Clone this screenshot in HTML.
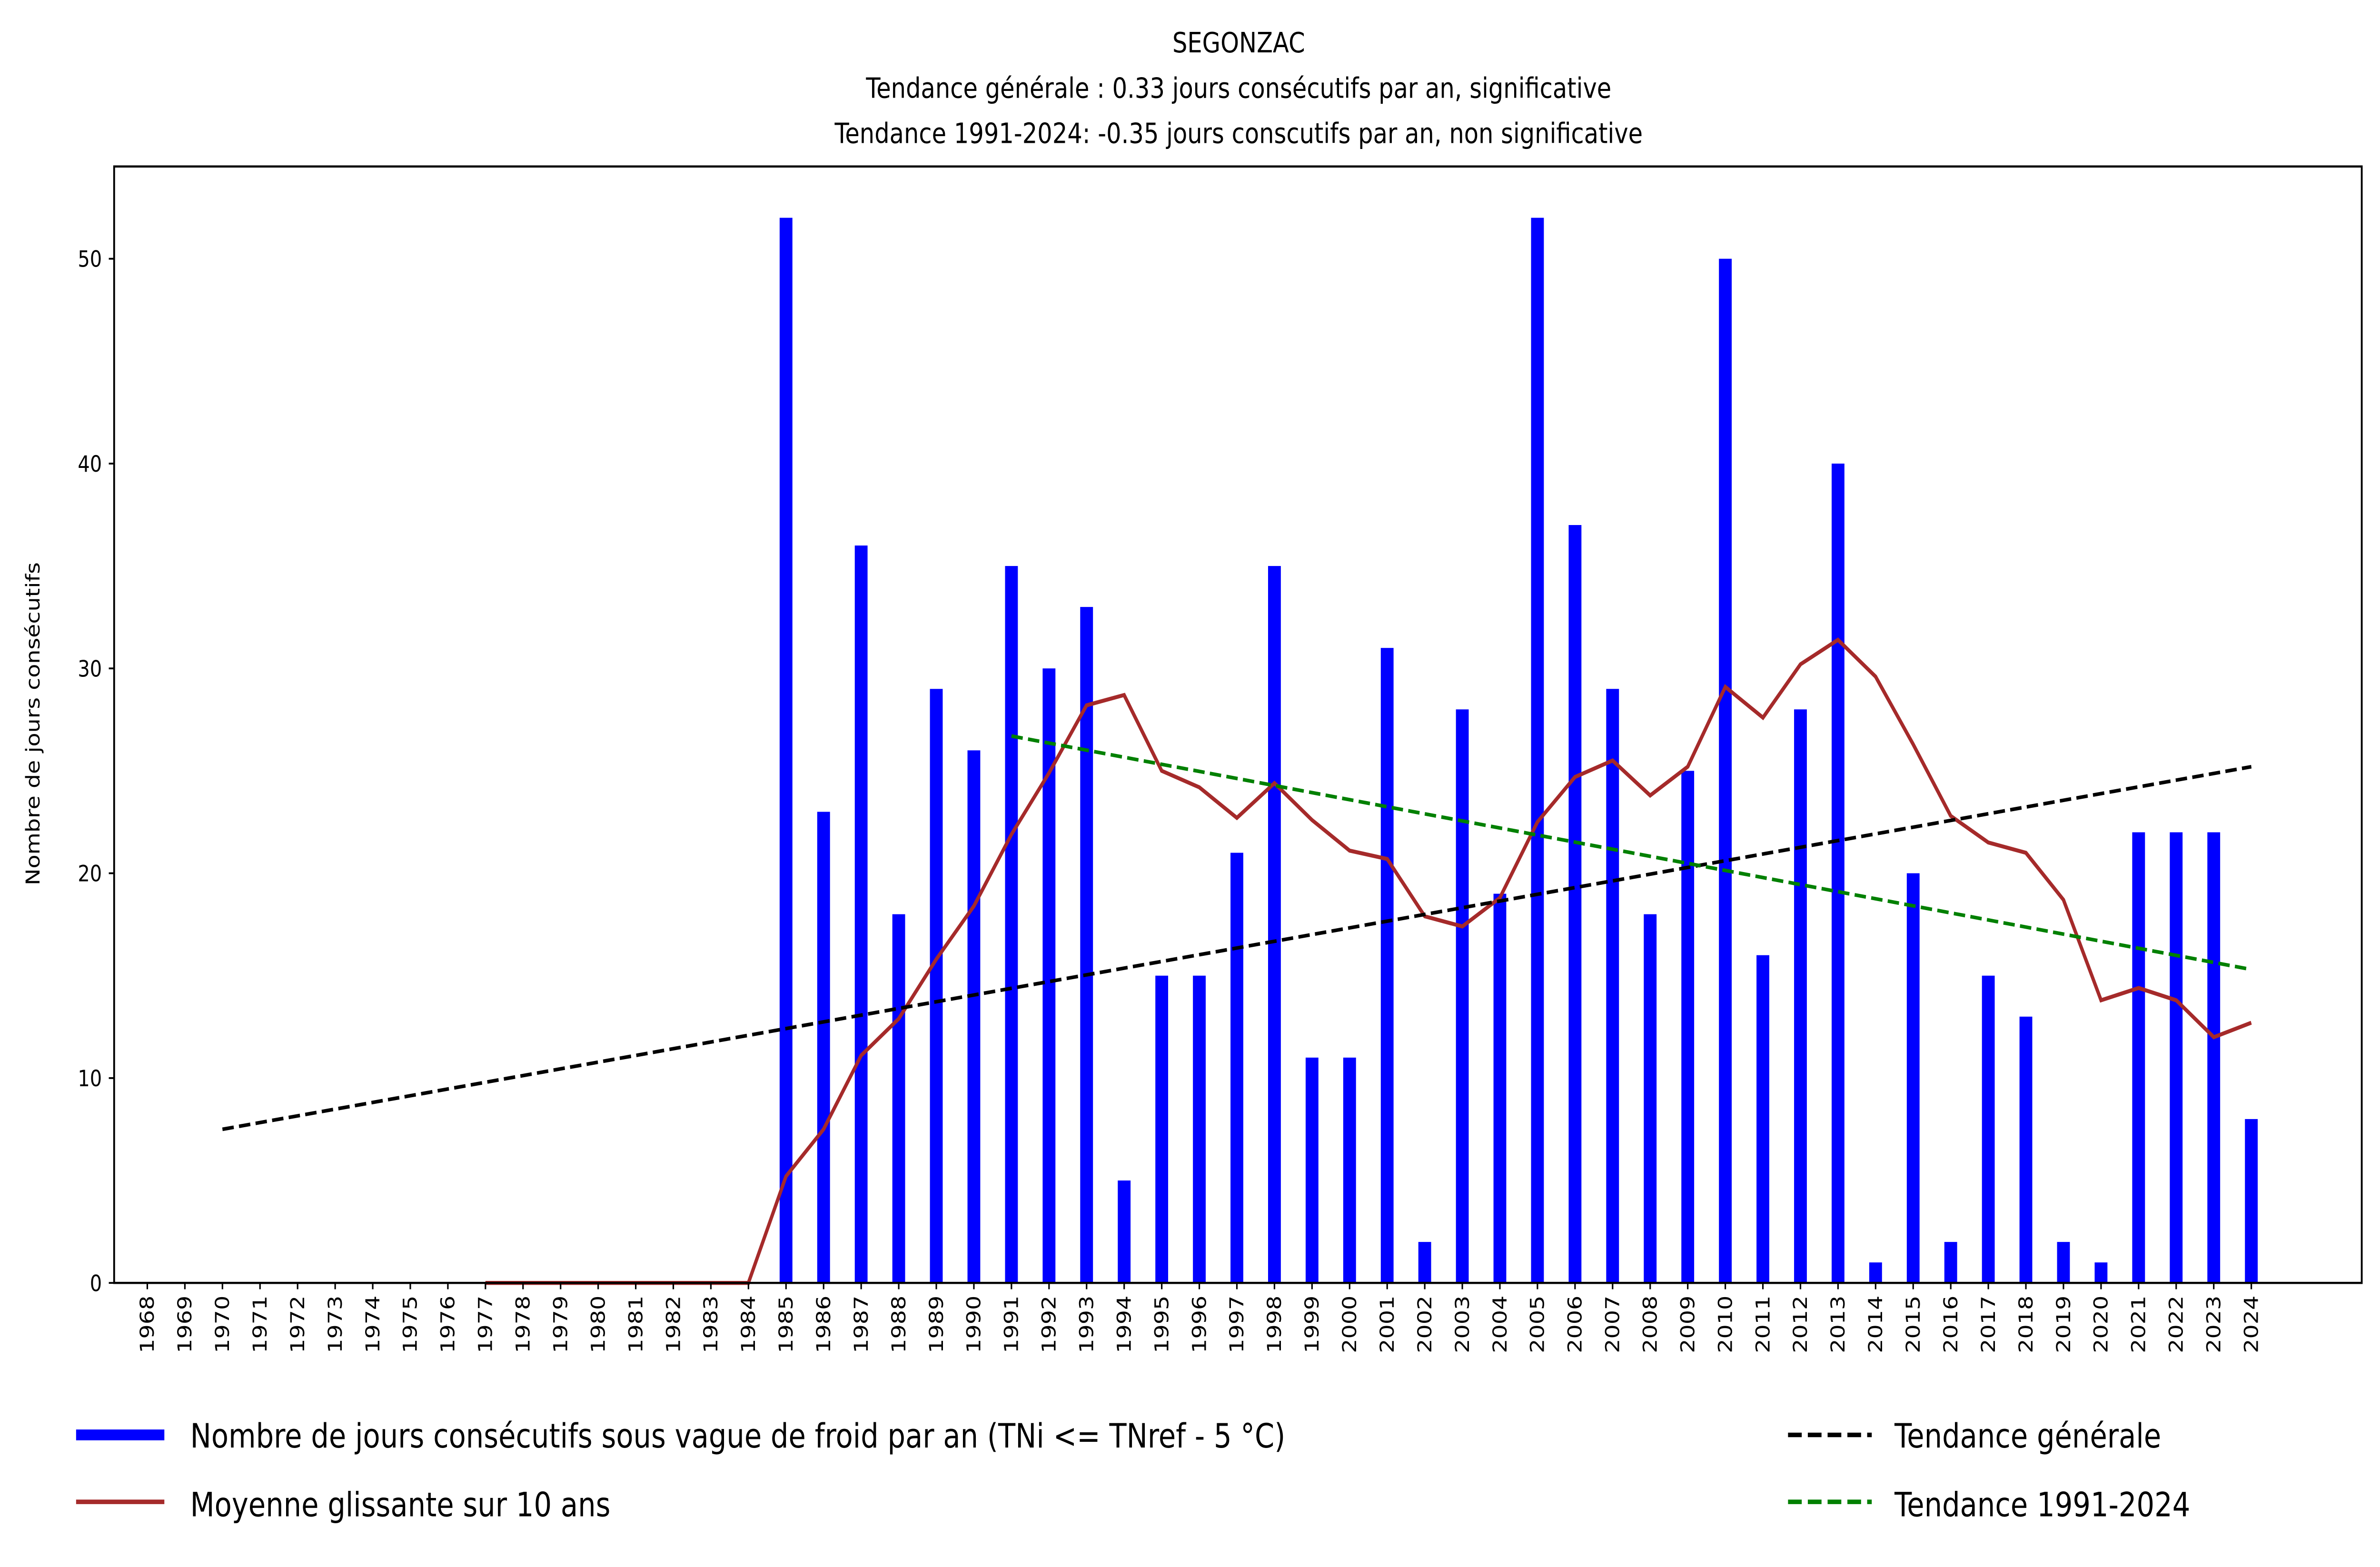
<!DOCTYPE html>
<html><head><meta charset="utf-8"><style>html,body{margin:0;padding:0;background:#fff;width:100%;height:100%;overflow:hidden}svg{display:block;width:100vw;height:100vh;position:fixed;left:0;top:0}text{font-family:"DejaVu Sans","Liberation Sans",sans-serif;fill:#000}</style></head>
<body>
<svg xmlns="http://www.w3.org/2000/svg" viewBox="0 0 1564 866" preserveAspectRatio="none">
<rect width="1564" height="866" fill="#fff"/>
<text x="814" y="29" font-size="15.5" text-anchor="middle">SEGONZAC</text>
<text x="814" y="54" font-size="15.5" text-anchor="middle">Tendance générale : 0.33 jours consécutifs par an, significative</text>
<text x="814" y="79" font-size="15.5" text-anchor="middle">Tendance 1991-2024: -0.35 jours conscutifs par an, non significative</text>
<text transform="translate(26,400) rotate(-90)" font-size="12.5" text-anchor="middle">Nombre de jours consécutifs</text>
<g id="g"></g>
<rect x="75" y="92" width="1477" height="617" fill="none" stroke="#000" stroke-width="1.2"/>
<line x1="50" y1="793" x2="108" y2="793" stroke="#00f" stroke-width="6"/>
<text x="125" y="800" font-size="18.5">Nombre de jours consécutifs sous vague de froid par an (TNi &lt;= TNref - 5 °C)</text>
<line x1="50" y1="830" x2="108" y2="830" stroke="#a52a2a" stroke-width="2.5"/>
<text x="125" y="838" font-size="18.5">Moyenne glissante sur 10 ans</text>
<line x1="1175" y1="793" x2="1230" y2="793" stroke="#000" stroke-width="2.5" stroke-dasharray="9,4"/>
<text x="1245" y="800" font-size="18.5">Tendance générale</text>
<line x1="1175" y1="830" x2="1230" y2="830" stroke="#008000" stroke-width="2.5" stroke-dasharray="9,4"/>
<text x="1245" y="838" font-size="18.5">Tendance 1991-2024</text>
</svg>
<script>
var g=document.getElementById('g'),h='';
function X(y){return 96.8+(y-1968)*24.69}
function Y(v){return 709-v*11.32}
var bars={1985:52,1986:23,1987:36,1988:18,1989:29,1990:26,1991:35,1992:30,1993:33,1994:5,1995:15,1996:15,1997:21,1998:35,1999:11,2000:11,2001:31,2002:2,2003:28,2004:19,2005:52,2006:37,2007:29,2008:18,2009:25,2010:50,2011:16,2012:28,2013:40,2014:1,2015:20,2016:2,2017:15,2018:13,2019:2,2020:1,2021:22,2022:22,2023:22,2024:8};
for(var k in bars){h+='<rect x="'+(X(+k)-4.2)+'" y="'+Y(bars[k])+'" width="8.4" height="'+(bars[k]*11.32)+'" fill="#00f"/>';}
var ma=[0,0,0,0,0,0,0,0,5.2,7.5,11.1,12.9,15.8,18.4,21.9,24.9,28.2,28.7,25.0,24.2,22.7,24.4,22.6,21.1,20.7,17.9,17.4,18.8,22.5,24.7,25.5,23.8,25.2,29.1,27.6,30.2,31.4,29.6,26.3,22.8,21.5,21.0,18.7,13.8,14.4,13.8,12.0,12.7];
var p=[];for(var i=0;i<ma.length;i++)p.push(X(1977+i).toFixed(1)+','+Y(ma[i]).toFixed(1));
h+='<polyline points="'+p.join(' ')+'" fill="none" stroke="#a52a2a" stroke-width="2.2"/>';
h+='<line x1="'+X(1970)+'" y1="'+Y(7.5)+'" x2="'+X(2024)+'" y2="'+Y(25.2)+'" stroke="#000" stroke-width="2" stroke-dasharray="7.5,3.5"/>';
h+='<line x1="'+X(1991)+'" y1="'+Y(26.7)+'" x2="'+X(2024)+'" y2="'+Y(15.3)+'" stroke="#008000" stroke-width="2" stroke-dasharray="7.5,3.5"/>';
for(var v=0;v<=50;v+=10){h+='<line x1="71.5" y1="'+Y(v)+'" x2="75" y2="'+Y(v)+'" stroke="#000" stroke-width="1"/><text x="67" y="'+(Y(v)+4.5)+'" font-size="12.5" text-anchor="end">'+v+'</text>';}
for(var y=1968;y<=2024;y++){var x=X(y);h+='<line x1="'+x+'" y1="709" x2="'+x+'" y2="712.5" stroke="#000" stroke-width="1"/><text transform="translate('+(x+4.3)+',716) rotate(-90)" font-size="12.5" text-anchor="end">'+y+'</text>';}
g.innerHTML=h;
</script>
</body></html>
